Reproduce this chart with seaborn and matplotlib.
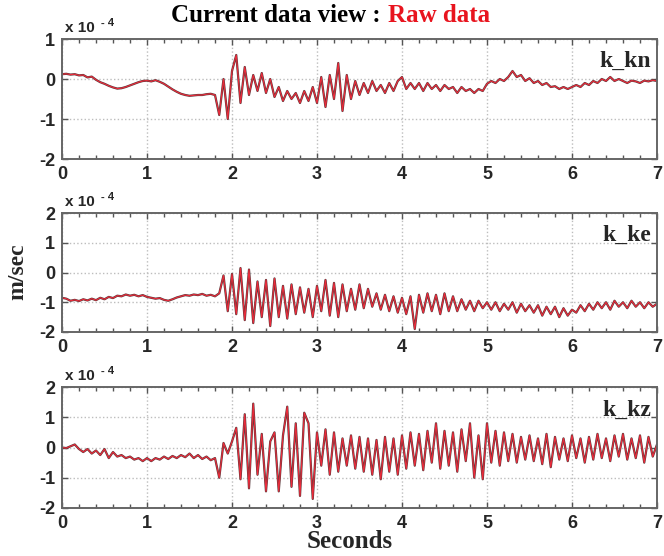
import numpy as np
import pandas as pd
import matplotlib
matplotlib.use('Agg')
import matplotlib.pyplot as plt
from matplotlib.ticker import MultipleLocator
import seaborn as sns

# ── data (x 1e-4 m/sec), sampled every 0.05 s from 0 to 7 s ─────────────────
STEP = 0.05
k_kn = [0.12, 0.13, 0.11, 0.12, 0.09, 0.10, 0.04, 0.06, -0.02, -0.08,
        -0.12, -0.17, -0.21, -0.24, -0.23, -0.20, -0.16, -0.12, -0.08, -0.05,
        -0.04, -0.06, -0.03, -0.07, -0.12, -0.19, -0.26, -0.32, -0.37, -0.40,
        -0.42, -0.41, -0.40, -0.40, -0.38, -0.37, -0.40, -0.90, 0.00, -1.00,
        0.20, 0.60, -0.60, 0.30, -0.40, 0.10, -0.30, 0.15, -0.35, 0.00,
        -0.45, -0.20, -0.55, -0.30, -0.50, -0.35, -0.60, -0.30, -0.55, -0.20,
        -0.60, 0.05, -0.70, 0.10, -0.50, 0.40, -0.80, 0.10, -0.50, -0.05,
        -0.40, -0.10, -0.35, -0.05, -0.30, -0.15, -0.35, -0.10, -0.30, -0.05,
        0.05, -0.25, -0.10, -0.25, -0.10, -0.30, -0.10, -0.25, -0.15, -0.30,
        -0.15, -0.25, -0.20, -0.35, -0.20, -0.30, -0.25, -0.35, -0.25, -0.30,
        -0.12, -0.05, -0.10, 0.00, -0.05, 0.05, 0.20, 0.05, 0.10, -0.05,
        0.02, -0.10, -0.05, -0.15, -0.10, -0.20, -0.18, -0.25, -0.20, -0.25,
        -0.20, -0.15, -0.20, -0.10, -0.15, -0.05, -0.10, 0.00, -0.05, 0.05,
        -0.05, 0.00, -0.05, -0.10, -0.04, -0.06, -0.10, -0.04, -0.06, -0.03,
        -0.05]
k_ke = [-0.85, -0.88, -0.95, -0.92, -0.96, -0.90, -0.94, -0.88, -0.93, -0.85,
        -0.90, -0.82, -0.86, -0.78, -0.80, -0.74, -0.78, -0.75, -0.80, -0.76,
        -0.82, -0.85, -0.88, -0.86, -0.92, -0.95, -0.90, -0.84, -0.80, -0.76,
        -0.78, -0.74, -0.76, -0.72, -0.78, -0.75, -0.80, -0.70, -0.10, -1.30,
        -0.05, -1.40, 0.15, -1.60, 0.10, -1.70, -0.30, -1.50, -0.25, -1.80,
        -0.20, -1.50, -0.45, -1.55, -0.40, -1.40, -0.50, -1.35, -0.55, -1.50,
        -0.45, -1.30, -0.25, -1.45, -0.35, -1.50, -0.40, -1.30, -0.55, -1.25,
        -0.40, -1.20, -0.55, -1.15, -0.70, -1.25, -0.75, -1.30, -0.80, -1.35,
        -0.85, -1.40, -0.80, -1.90, -0.75, -1.35, -0.70, -1.30, -0.75, -1.40,
        -0.70, -1.30, -0.80, -1.30, -0.90, -1.25, -0.95, -1.30, -0.95, -1.20,
        -1.00, -1.25, -1.00, -1.30, -1.05, -1.25, -1.00, -1.35, -1.05, -1.30,
        -1.10, -1.35, -1.10, -1.45, -1.15, -1.40, -1.15, -1.50, -1.20, -1.45,
        -1.25, -1.35, -1.10, -1.30, -1.05, -1.25, -1.00, -1.20, -1.00, -1.25,
        -0.95, -1.15, -1.00, -1.20, -0.95, -1.15, -1.00, -1.20, -1.00, -1.15,
        -1.05]
k_kz = [0.00, -0.02, 0.04, 0.10, -0.05, -0.15, -0.05, -0.20, -0.10, -0.25,
        -0.05, -0.35, -0.15, -0.30, -0.25, -0.35, -0.30, -0.40, -0.35, -0.45,
        -0.35, -0.45, -0.35, -0.40, -0.30, -0.38, -0.28, -0.35, -0.25, -0.32,
        -0.20, -0.35, -0.25, -0.38, -0.30, -0.42, -0.35, -1.00, 0.15, -0.20,
        0.20, 0.65, -1.05, 1.10, -1.35, 1.45, -0.90, 0.45, -1.45, 0.20,
        0.50, -1.45, 0.40, 1.35, -1.30, 0.80, -1.60, 1.15, 0.80, -1.70,
        0.50, -0.60, 0.60, -0.90, 0.50, -0.80, 0.30, -0.60, 0.40, -0.70,
        0.35, -0.80, 0.30, -0.90, 0.25, -1.05, 0.35, -0.80, 0.30, -0.90,
        0.40, -0.70, 0.50, -0.60, 0.45, -0.75, 0.55, -0.50, 0.80, -0.70,
        0.55, -0.60, 0.50, -0.80, 0.60, -0.45, 0.80, -1.00, 0.40, -1.05,
        0.80, -0.50, 0.55, -0.60, 0.50, -0.45, 0.45, -0.50, 0.35, -0.40,
        0.40, -0.45, 0.30, -0.55, 0.45, -0.65, 0.35, -0.40, 0.30, -0.45,
        0.40, -0.35, 0.30, -0.50, 0.35, -0.40, 0.45, -0.35, 0.30, -0.45,
        0.40, -0.30, 0.45, -0.40, 0.30, -0.35, 0.40, -0.50, 0.35, -0.30,
        0.10]

CHANNELS = ['k_kn', 'k_ke', 'k_kz']
TRACES = [k_kn, k_ke, k_kz]
YLIMS = [(-2, 1), (-2, 2), (-2, 2)]
X_TICKS = [0, 1, 2, 3, 4, 5, 6, 7]

SERIF = 'Liberation Serif'
SANS = 'Liberation Sans'

sns.set_theme(style='white')
plt.rcParams['font.family'] = [SANS, 'DejaVu Sans']
plt.rcParams['axes.unicode_minus'] = False

W, H = 664, 556
fig = plt.figure(figsize=(W / 100, H / 100), dpi=100)
fig.patch.set_facecolor('white')

# axes boxes in pixels: (left, top, right, bottom)
boxes = [(62, 39, 657, 159), (62, 213, 657, 332), (62, 387, 657, 508)]

for name, trace, ylim, (l, t, r, b) in zip(CHANNELS, TRACES, YLIMS, boxes):
    ax = fig.add_axes([l / W, 1 - b / H, (r - l) / W, (b - t) / H])
    df = pd.DataFrame({'t': np.arange(len(trace)) * STEP, 'v': trace})
    sns.lineplot(data=df, x='t', y='v', ax=ax, estimator=None, sort=False,
                 color='#5a3a3c', linewidth=1.6)
    sns.lineplot(data=df, x='t', y='v', ax=ax, estimator=None, sort=False,
                 color='#ee2a3a', linewidth=0.8)
    ax.set_xlim(0, 7)
    ax.set_ylim(*ylim)
    ax.set_xticks(X_TICKS)
    ax.set_yticks(range(ylim[0], ylim[1] + 1))
    ax.xaxis.set_minor_locator(MultipleLocator(0.2))
    ax.set_xlabel('')
    ax.set_ylabel('')
    ax.grid(True, which='major', color='#bdbdbd', linestyle=':', linewidth=1.0)
    ax.set_axisbelow(True)
    ax.tick_params(axis='both', which='both', direction='in',
                   top=True, right=True, bottom=True, left=True,
                   color='#555555')
    ax.tick_params(which='major', length=4, width=1.0, labelsize=13, pad=5)
    ax.tick_params(which='minor', length=3, width=1.0)
    for lab in ax.get_xticklabels() + ax.get_yticklabels():
        lab.set_fontweight('bold')
    for s in ax.spines.values():
        s.set_color('#666666')
        s.set_linewidth(1.4)
    # exponent label above the top-left corner: "x 10" with a raised "-4"
    ax.text(0.005, 1.03, 'x 10', transform=ax.transAxes,
            ha='left', va='bottom', fontsize=11, fontweight='bold')
    ax.text(0.066, 1.09, '- 4', transform=ax.transAxes,
            ha='left', va='bottom', fontsize=8, fontweight='bold')
    ax.text(0.99, 0.81, name, transform=ax.transAxes, ha='right',
            va='center', fontsize=17, fontweight='bold', family=SERIF)

fig.text(381 / W, 1 - 16 / H, 'Current data view :', ha='right', va='center',
         fontsize=18, fontweight='bold', family=SERIF, color='black')
fig.text(388 / W, 1 - 16 / H, 'Raw data', ha='left', va='center',
         fontsize=18, fontweight='bold', family=SERIF, color='#e8141e')
fig.text(18 / W, 1 - 272 / H, 'm/sec', rotation=90, ha='center', va='center',
         fontsize=17, fontweight='bold', family=SERIF)
fig.text(350 / W, 1 - 542 / H, 'Seconds', ha='center', va='center',
         fontsize=18, fontweight='bold', family=SERIF)

fig.savefig('out.png', dpi=100, facecolor='white')
